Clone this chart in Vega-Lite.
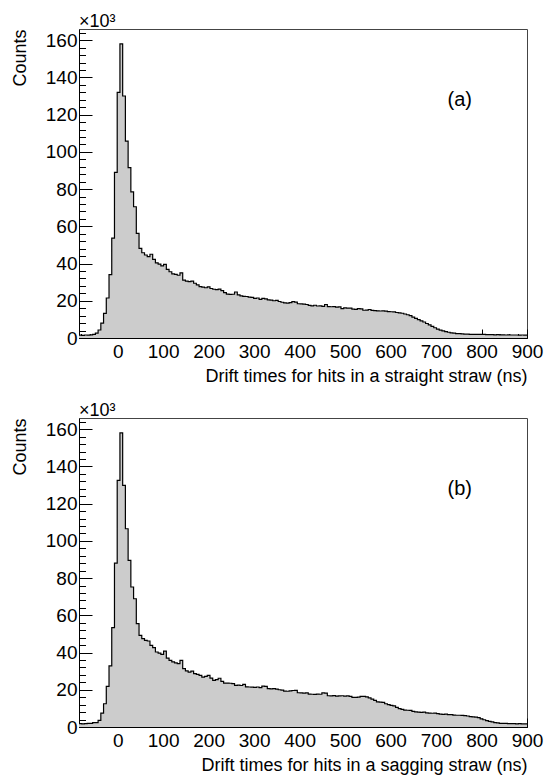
{
  "$schema": "https://vega.github.io/schema/vega-lite/v6.json",
  "autosize": {"type": "none"},
  "padding": {"left": 79, "top": 29, "right": 469, "bottom": 747},
  "background": "white",
  "bounds": "flush",
  "spacing": 80,
  "config": {
    "font": "Liberation Sans",
    "view": {"stroke": "#444", "strokeWidth": 1},
    "axis": {"grid": false, "zindex": 1, "domainColor": "#000", "tickColor": "#000", "labelColor": "#000", "titleColor": "#000", "labelFont": "Liberation Sans", "titleFont": "Liberation Sans", "titleFontWeight": "normal", "labelFlush": false, "labelOverlap": false}
  },
  "datasets": {
    "a": [
      {"t":-85,"c":1.5},{"t":-79,"c":1.4},{"t":-73,"c":1.6},{"t":-67,"c":1.5},{"t":-61,"c":1.7},{"t":-55,"c":2.0},{"t":-49,"c":2.6},{"t":-43,"c":4.3},{"t":-37,"c":8.0},{"t":-31,"c":13.2},
      {"t":-25,"c":21.5},{"t":-19,"c":34},{"t":-13,"c":53.7},{"t":-7,"c":89},{"t":-1,"c":132},{"t":5,"c":158},{"t":11,"c":130},{"t":17,"c":105.8},{"t":23,"c":91.5},{"t":29,"c":78.5},
      {"t":35,"c":70.5},{"t":41,"c":56.2},{"t":47,"c":48.2},{"t":53,"c":45.8},{"t":59,"c":44.6},{"t":65,"c":43.7},{"t":71,"c":45.0},{"t":77,"c":42.2},{"t":83,"c":40.4},{"t":89,"c":39.7},
      {"t":95,"c":38.8},{"t":101,"c":39.6},{"t":107,"c":36.9},{"t":113,"c":35.6},{"t":119,"c":34.4},{"t":125,"c":34.2},{"t":131,"c":33.7},{"t":137,"c":35.0},{"t":143,"c":31.1},{"t":149,"c":30.6},
      {"t":155,"c":30.3},{"t":161,"c":30.6},{"t":167,"c":29.4},{"t":173,"c":28.5},{"t":179,"c":27.6},{"t":185,"c":27.3},{"t":191,"c":27.0},{"t":197,"c":27.5},{"t":203,"c":26.6},{"t":209,"c":26.2},
      {"t":215,"c":26.0},{"t":221,"c":26.3},{"t":227,"c":25.5},{"t":233,"c":24.4},{"t":239,"c":23.6},{"t":245,"c":23.4},{"t":251,"c":23.5},{"t":257,"c":24.7},{"t":263,"c":23.2},{"t":269,"c":22.6},
      {"t":275,"c":22.4},{"t":281,"c":22.3},{"t":287,"c":22.0},{"t":293,"c":21.8},{"t":299,"c":21.3},{"t":305,"c":21.5},{"t":311,"c":20.8},{"t":317,"c":21.3},{"t":323,"c":21.0},{"t":329,"c":20.5},
      {"t":335,"c":20.3},{"t":341,"c":20.0},{"t":347,"c":20.2},{"t":353,"c":19.6},{"t":359,"c":19.2},{"t":365,"c":18.9},{"t":371,"c":18.7},{"t":377,"c":19.0},{"t":383,"c":19.5},{"t":389,"c":19.3},
      {"t":395,"c":18.4},{"t":401,"c":18.3},{"t":407,"c":18.2},{"t":413,"c":18.0},{"t":419,"c":17.5},{"t":425,"c":17.3},{"t":431,"c":17.6},{"t":437,"c":17.2},{"t":443,"c":17.3},{"t":449,"c":17.0},
      {"t":455,"c":18.0},{"t":461,"c":16.9},{"t":467,"c":16.8},{"t":473,"c":16.9},{"t":479,"c":16.6},{"t":485,"c":16.7},{"t":491,"c":15.8},{"t":497,"c":16.2},{"t":503,"c":16.1},{"t":509,"c":16.0},
      {"t":515,"c":15.5},{"t":521,"c":15.4},{"t":527,"c":15.8},{"t":533,"c":15.6},{"t":539,"c":14.9},{"t":545,"c":15.0},{"t":551,"c":15.3},{"t":557,"c":14.8},{"t":563,"c":14.7},{"t":569,"c":14.6},
      {"t":575,"c":14.5},{"t":581,"c":14.6},{"t":587,"c":14.4},{"t":593,"c":14.2},{"t":599,"c":14.1},{"t":605,"c":14.0},{"t":611,"c":13.7},{"t":617,"c":13.5},{"t":623,"c":13.3},{"t":629,"c":12.9},
      {"t":635,"c":12.5},{"t":641,"c":12.0},{"t":647,"c":11.2},{"t":653,"c":10.5},{"t":659,"c":9.9},{"t":665,"c":9.2},{"t":671,"c":8.6},{"t":677,"c":7.8},{"t":683,"c":7.0},{"t":689,"c":6.2},
      {"t":695,"c":5.5},{"t":701,"c":4.8},{"t":707,"c":4.2},{"t":713,"c":3.8},{"t":719,"c":3.4},{"t":725,"c":3.1},{"t":731,"c":2.8},{"t":737,"c":2.6},{"t":743,"c":2.4},{"t":749,"c":2.3},
      {"t":755,"c":2.2},{"t":761,"c":2.1},{"t":767,"c":2.1},{"t":773,"c":2.0},{"t":779,"c":2.0},{"t":785,"c":1.9},{"t":791,"c":2.0},{"t":797,"c":1.9},{"t":803,"c":1.9},{"t":809,"c":1.8},
      {"t":815,"c":1.8},{"t":821,"c":1.8},{"t":827,"c":1.7},{"t":833,"c":1.8},{"t":839,"c":1.7},{"t":845,"c":1.7},{"t":851,"c":1.6},{"t":857,"c":1.7},{"t":863,"c":1.6},{"t":869,"c":1.6},
      {"t":875,"c":1.6},{"t":881,"c":1.5},{"t":887,"c":1.6},{"t":893,"c":1.5},{"t":900,"c":1.5}
    ],
    "b": [
      {"t":-85,"c":1.8},{"t":-79,"c":1.7},{"t":-73,"c":1.8},{"t":-67,"c":1.9},{"t":-61,"c":2.0},{"t":-55,"c":2.3},{"t":-49,"c":2.4},{"t":-43,"c":3.6},{"t":-37,"c":7.5},{"t":-31,"c":12.5},
      {"t":-25,"c":21.8},{"t":-19,"c":32.8},{"t":-13,"c":53.4},{"t":-7,"c":88},{"t":-1,"c":132.5},{"t":5,"c":158},{"t":11,"c":129.8},{"t":17,"c":106.5},{"t":23,"c":89.5},{"t":29,"c":75.2},
      {"t":35,"c":68.9},{"t":41,"c":55.5},{"t":47,"c":49.2},{"t":53,"c":47.5},{"t":59,"c":46.5},{"t":65,"c":46.2},{"t":71,"c":43.9},{"t":77,"c":42.6},{"t":83,"c":40.3},{"t":89,"c":39.7},
      {"t":95,"c":39.0},{"t":101,"c":40.8},{"t":107,"c":37.0},{"t":113,"c":35.8},{"t":119,"c":35.0},{"t":125,"c":34.4},{"t":131,"c":34.0},{"t":137,"c":35.8},{"t":143,"c":31.4},{"t":149,"c":30.1},
      {"t":155,"c":29.5},{"t":161,"c":30.0},{"t":167,"c":28.7},{"t":173,"c":28.3},{"t":179,"c":27.7},{"t":185,"c":26.8},{"t":191,"c":27.2},{"t":197,"c":27.7},{"t":203,"c":26.3},{"t":209,"c":25.1},
      {"t":215,"c":25.4},{"t":221,"c":26.2},{"t":227,"c":24.5},{"t":233,"c":23.6},{"t":239,"c":23.6},{"t":245,"c":23.5},{"t":251,"c":23.3},{"t":257,"c":22.4},{"t":263,"c":22.5},{"t":269,"c":22.3},
      {"t":275,"c":22.9},{"t":281,"c":21.6},{"t":287,"c":21.5},{"t":293,"c":21.4},{"t":299,"c":21.3},{"t":305,"c":21.5},{"t":311,"c":21.2},{"t":317,"c":22.0},{"t":323,"c":21.8},{"t":329,"c":20.6},
      {"t":335,"c":20.5},{"t":341,"c":20.6},{"t":347,"c":20.3},{"t":353,"c":20.0},{"t":359,"c":19.8},{"t":365,"c":19.3},{"t":371,"c":19.2},{"t":377,"c":19.4},{"t":383,"c":19.6},{"t":389,"c":19.7},
      {"t":395,"c":18.4},{"t":401,"c":18.3},{"t":407,"c":18.2},{"t":413,"c":18.3},{"t":419,"c":17.7},{"t":425,"c":17.6},{"t":431,"c":17.5},{"t":437,"c":17.7},{"t":443,"c":17.6},{"t":449,"c":18.3},
      {"t":455,"c":18.2},{"t":461,"c":16.8},{"t":467,"c":16.7},{"t":473,"c":16.9},{"t":479,"c":16.6},{"t":485,"c":16.7},{"t":491,"c":16.8},{"t":497,"c":16.6},{"t":503,"c":16.7},{"t":509,"c":16.5},
      {"t":515,"c":15.9},{"t":521,"c":15.9},{"t":527,"c":16.0},{"t":533,"c":16.4},{"t":539,"c":16.5},{"t":545,"c":16.2},{"t":551,"c":15.6},{"t":557,"c":15.0},{"t":563,"c":14.3},{"t":569,"c":13.5},
      {"t":575,"c":13.4},{"t":581,"c":13.2},{"t":587,"c":12.5},{"t":593,"c":12.0},{"t":599,"c":11.6},{"t":605,"c":11.4},{"t":611,"c":10.5},{"t":617,"c":9.9},{"t":623,"c":9.5},{"t":629,"c":9.1},
      {"t":635,"c":9.0},{"t":641,"c":8.9},{"t":647,"c":8.4},{"t":653,"c":8.1},{"t":659,"c":8.0},{"t":665,"c":7.9},{"t":671,"c":8.0},{"t":677,"c":7.6},{"t":683,"c":7.5},{"t":689,"c":7.4},
      {"t":695,"c":7.5},{"t":701,"c":7.2},{"t":707,"c":6.9},{"t":713,"c":6.8},{"t":719,"c":6.9},{"t":725,"c":6.7},{"t":731,"c":6.6},{"t":737,"c":6.4},{"t":743,"c":6.3},{"t":749,"c":6.3},
      {"t":755,"c":6.2},{"t":761,"c":6.1},{"t":767,"c":5.9},{"t":773,"c":5.6},{"t":779,"c":5.4},{"t":785,"c":5.3},{"t":791,"c":5.0},{"t":797,"c":4.4},{"t":803,"c":3.9},{"t":809,"c":3.4},
      {"t":815,"c":3.0},{"t":821,"c":2.7},{"t":827,"c":2.4},{"t":833,"c":2.2},{"t":839,"c":2.0},{"t":845,"c":1.9},{"t":851,"c":1.9},{"t":857,"c":1.8},{"t":863,"c":1.8},{"t":869,"c":1.8},
      {"t":875,"c":1.7},{"t":881,"c":1.8},{"t":887,"c":1.7},{"t":893,"c":1.7},{"t":900,"c":1.7}
    ]
  },
  "vconcat": [
    {
      "width": 448, "height": 309,
      "layer": [
        {
          "data": {"name": "a"},
          "mark": {"type": "area", "interpolate": "step-after", "color": "#cccccc"},
          "encoding": {
            "x": {"field": "t", "type": "quantitative", "scale": {"domain": [-85, 900], "nice": false, "zero": false},
              "axis": {"orient": "bottom", "values": [0,100,200,300,400,500,600,700,800,900], "tickSize": -9, "labelPadding": 13, "labelFontSize": 19, "title": "Drift times for hits in a straight straw (ns)", "titleFontSize": 18, "titleAnchor": "end", "titlePadding": 6}},
            "y": {"field": "c", "type": "quantitative", "scale": {"domain": [0, 166], "nice": false},
              "axis": {"orient": "left", "values": [0,20,40,60,80,100,120,140,160], "tickSize": -13, "labelPadding": 15, "labelFontSize": 19, "title": "Counts", "titleFontSize": 18, "titleAnchor": "end", "titlePadding": 16}}
          }
        },
        {
          "data": {"name": "a"},
          "mark": {"type": "line", "interpolate": "step-after", "color": "#000000", "strokeWidth": 1.2},
          "encoding": {
            "x": {"field": "t", "type": "quantitative",
              "axis": {"orient": "bottom", "values": [-80,-60,-40,-20,0,20,40,60,80,100,120,140,160,180,200,220,240,260,280,300,320,340,360,380,400,420,440,460,480,500,520,540,560,580,600,620,640,660,680,700,720,740,760,780,800,820,840,860,880,900], "tickSize": -4.5, "labels": false, "domain": false, "title": null}},
            "y": {"field": "c", "type": "quantitative",
              "axis": {"orient": "left", "values": [0,4,8,12,16,20,24,28,32,36,40,44,48,52,56,60,64,68,72,76,80,84,88,92,96,100,104,108,112,116,120,124,128,132,136,140,144,148,152,156,160,164], "tickSize": -6.5, "labels": false, "domain": false, "title": null}}
          }
        },
        {
          "data": {"values": [{"t": -85, "c": 166, "s": "×10³"}]},
          "mark": {"type": "text", "align": "left", "baseline": "alphabetic", "dy": -2, "fontSize": 18, "color": "#000"},
          "encoding": {"x": {"field": "t", "type": "quantitative", "axis": null}, "y": {"field": "c", "type": "quantitative", "axis": null}, "text": {"field": "s"}}
        },
        {
          "data": {"values": [{"t": 752, "c": 128, "s": "(a)"}]},
          "mark": {"type": "text", "align": "center", "baseline": "middle", "fontSize": 20, "color": "#000"},
          "encoding": {"x": {"field": "t", "type": "quantitative", "axis": null}, "y": {"field": "c", "type": "quantitative", "axis": null}, "text": {"field": "s"}}
        }
      ],
      "resolve": {"axis": {"x": "independent", "y": "independent"}}
    },
    {
      "width": 448, "height": 309,
      "layer": [
        {
          "data": {"name": "b"},
          "mark": {"type": "area", "interpolate": "step-after", "color": "#cccccc"},
          "encoding": {
            "x": {"field": "t", "type": "quantitative", "scale": {"domain": [-85, 900], "nice": false, "zero": false},
              "axis": {"orient": "bottom", "values": [0,100,200,300,400,500,600,700,800,900], "tickSize": -9, "labelPadding": 13, "labelFontSize": 19, "title": "Drift times for hits in a sagging straw (ns)", "titleFontSize": 18, "titleAnchor": "end", "titlePadding": 6}},
            "y": {"field": "c", "type": "quantitative", "scale": {"domain": [0, 166], "nice": false},
              "axis": {"orient": "left", "values": [0,20,40,60,80,100,120,140,160], "tickSize": -13, "labelPadding": 15, "labelFontSize": 19, "title": "Counts", "titleFontSize": 18, "titleAnchor": "end", "titlePadding": 16}}
          }
        },
        {
          "data": {"name": "b"},
          "mark": {"type": "line", "interpolate": "step-after", "color": "#000000", "strokeWidth": 1.2},
          "encoding": {
            "x": {"field": "t", "type": "quantitative",
              "axis": {"orient": "bottom", "values": [-80,-60,-40,-20,0,20,40,60,80,100,120,140,160,180,200,220,240,260,280,300,320,340,360,380,400,420,440,460,480,500,520,540,560,580,600,620,640,660,680,700,720,740,760,780,800,820,840,860,880,900], "tickSize": -4.5, "labels": false, "domain": false, "title": null}},
            "y": {"field": "c", "type": "quantitative",
              "axis": {"orient": "left", "values": [0,4,8,12,16,20,24,28,32,36,40,44,48,52,56,60,64,68,72,76,80,84,88,92,96,100,104,108,112,116,120,124,128,132,136,140,144,148,152,156,160,164], "tickSize": -6.5, "labels": false, "domain": false, "title": null}}
          }
        },
        {
          "data": {"values": [{"t": -85, "c": 166, "s": "×10³"}]},
          "mark": {"type": "text", "align": "left", "baseline": "alphabetic", "dy": -2, "fontSize": 18, "color": "#000"},
          "encoding": {"x": {"field": "t", "type": "quantitative", "axis": null}, "y": {"field": "c", "type": "quantitative", "axis": null}, "text": {"field": "s"}}
        },
        {
          "data": {"values": [{"t": 752, "c": 128, "s": "(b)"}]},
          "mark": {"type": "text", "align": "center", "baseline": "middle", "fontSize": 20, "color": "#000"},
          "encoding": {"x": {"field": "t", "type": "quantitative", "axis": null}, "y": {"field": "c", "type": "quantitative", "axis": null}, "text": {"field": "s"}}
        }
      ],
      "resolve": {"axis": {"x": "independent", "y": "independent"}}
    }
  ]
}
